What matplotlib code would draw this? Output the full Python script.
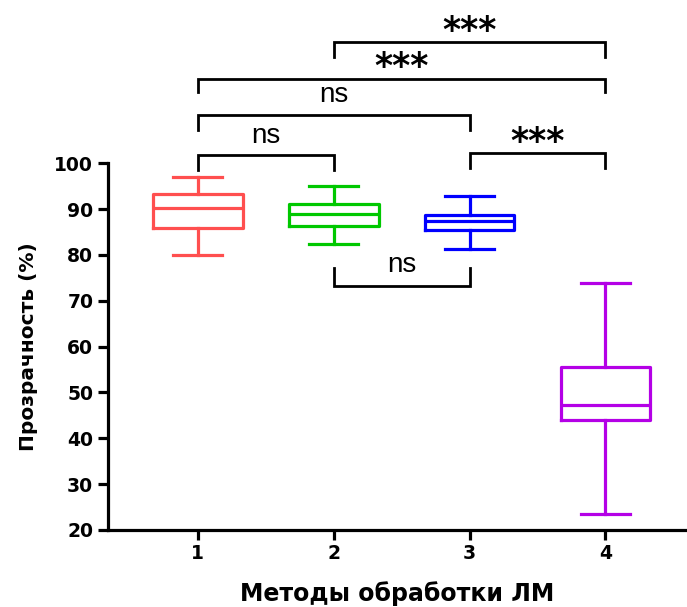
import matplotlib
matplotlib.use("Agg")
import matplotlib.pyplot as plt

# Box statistics per method (min, Q1, median, Q3, max), %
methods = ["1", "2", "3", "4"]
whislo = [80.0, 82.4, 81.2, 23.5]
q1 = [85.8, 86.3, 85.4, 44.0]
med = [90.2, 88.9, 87.4, 47.3]
q3 = [93.2, 91.1, 88.7, 55.6]
whishi = [97.0, 95.0, 92.8, 73.9]
colors = ["#FF4F4F", "#00C800", "#0000FF", "#B400E6"]

# Significance brackets: (group a, group b, bar level, leg end, label)
comparisons = [
    (1, 2, 101.7, 98.5, "ns"),
    (1, 3, 110.5, 107.2, "ns"),
    (1, 4, 118.5, 115.5, "***"),
    (2, 4, 126.4, 123.1, "***"),
    (3, 4, 102.2, 98.9, "***"),
    (2, 3, 73.2, 77.1, "ns"),
]

plt.rcParams["font.family"] = ["Liberation Sans", "DejaVu Sans"]
BOLD = ["DejaVu Sans", "Liberation Sans"]

fig = plt.figure(figsize=(6.87, 6.07), dpi=100)
ax = fig.add_axes([0.157, 0.127, 0.843, 0.604])

positions = list(range(1, len(methods) + 1))
for i, pos in enumerate(positions):
    stats = [{
        "whislo": whislo[i], "q1": q1[i], "med": med[i],
        "q3": q3[i], "whishi": whishi[i], "fliers": [],
    }]
    c = colors[i]
    ax.bxp(stats, positions=[pos], widths=0.66, showfliers=False,
           boxprops=dict(color=c, linewidth=2.3),
           medianprops=dict(color=c, linewidth=2.3),
           whiskerprops=dict(color=c, linewidth=2.3),
           capprops=dict(color=c, linewidth=2.3),
           capwidths=0.36)

ax.set_xlim(0.338, 4.6)
ax.set_ylim(20, 100)
ax.set_yticks(range(20, 101, 10))
ax.set_xticks(positions)
ax.set_xticklabels(methods)

for side in ("top", "right"):
    ax.spines[side].set_visible(False)
for side in ("left", "bottom"):
    ax.spines[side].set_linewidth(2.3)
ax.tick_params(axis="both", width=2.3, length=7.5, pad=3)
for lab in ax.get_xticklabels() + ax.get_yticklabels():
    lab.set_fontweight("bold")
    lab.set_family(BOLD)
    lab.set_fontsize(13.5)

ax.set_xlabel("Методы обработки ЛМ", fontsize=17, fontweight="bold",
              family=BOLD, labelpad=13)
ax.set_ylabel("Прозрачность (%)", fontsize=14.5, fontweight="bold",
              family=BOLD, labelpad=12)

for a, b, level, leg, label in comparisons:
    ax.plot([a, a, b, b], [leg, level, level, leg], color="black",
            linewidth=2.0, clip_on=False, solid_joinstyle="miter")
    xm = (a + b) / 2
    if label == "ns":
        ty = level + 2.8 if level > leg else 76.3
        ax.text(xm, ty, label, ha="center", va="baseline", fontsize=20)
    else:
        ax.text(xm, level + 0.3, label, ha="center", va="baseline",
                fontsize=25, fontweight="bold", family=BOLD)

fig.savefig("out.png", dpi=100)
